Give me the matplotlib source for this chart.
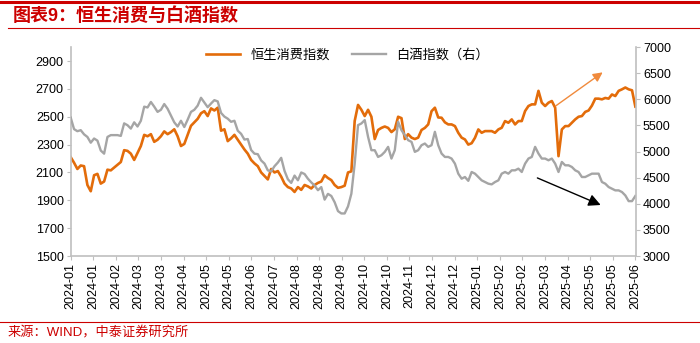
import numpy as np
import matplotlib.pyplot as plt
from matplotlib.lines import Line2D

plt.rcParams['font.family'] = ['Liberation Sans', 'Noto Sans CJK SC', 'DejaVu Sans']

# 恒生消费指数 (left axis), sampled roughly every two trading days
hs_consumer = [
    2210, 2170, 2125, 2150, 2145, 2010, 1965, 2080, 2090, 2020,
    2035, 2120, 2115, 2135, 2155, 2175, 2260, 2255, 2235, 2190,
    2240, 2290, 2370, 2360, 2375, 2320, 2335, 2360, 2395, 2375,
    2390, 2410, 2360, 2290, 2305, 2370, 2435, 2460, 2485, 2525,
    2540, 2505, 2560, 2545, 2565, 2400, 2410, 2325, 2345, 2370,
    2335, 2300, 2265, 2235, 2190, 2165, 2145, 2100, 2075, 2050,
    2125, 2100, 2110, 2070, 2020, 1995, 1985, 1960, 1995, 1975,
    2010, 2000, 1985, 2010, 2025, 2035, 2080, 2060, 2045, 2010,
    1990, 1995, 2005, 2100,
    2108, 2470, 2585, 2550, 2505, 2550, 2500, 2340, 2405, 2420,
    2430, 2420, 2390, 2410, 2500, 2490, 2340, 2375, 2350, 2340,
    2350, 2405, 2420, 2445, 2540, 2565, 2495, 2493, 2460, 2445,
    2445, 2433, 2385, 2350, 2337, 2300, 2310, 2349, 2409, 2385,
    2397, 2397, 2397, 2385, 2409, 2421, 2469, 2457, 2481, 2445,
    2469, 2469, 2541, 2577, 2589, 2589, 2686, 2601, 2577, 2601,
    2613, 2565, 2217, 2409, 2433, 2433, 2457, 2481, 2500, 2505,
    2535, 2545, 2580, 2630, 2630, 2625, 2635, 2630, 2660, 2649,
    2686, 2697, 2710, 2697, 2690, 2573,
]

# 白酒指数 (right axis)
baijiu = [
    5650, 5430, 5390, 5410, 5330, 5280, 5170, 5250, 5210, 5020,
    4960, 5280, 5315, 5315, 5315, 5300, 5540, 5505, 5440, 5560,
    5480, 5590, 5860, 5845, 5950, 5860, 5760, 5800, 5910, 5820,
    5690, 5560, 5480, 5590, 5470, 5610, 5760, 5800, 5880, 6030,
    5940, 5850, 5920, 5985, 5960, 5740, 5670, 5630, 5570, 5590,
    5400, 5340, 5230, 5240, 5030, 4960, 4950, 4830, 4770, 4640,
    4620, 4720, 4790, 4880, 4630, 4470, 4400, 4540, 4450, 4600,
    4570, 4480, 4410, 4350, 4260, 4320, 4080, 4190, 4150, 4030,
    3860, 3815, 3815, 3950,
    4192, 4770, 5506, 5538, 5603, 5282, 5026, 5026, 4897, 4930,
    4994, 5090, 4866, 5026, 5570, 5410, 5314, 5218, 5186, 4994,
    5026, 5122, 5154, 5090, 5122, 5378, 5122, 4962, 4897, 4897,
    4866, 4769, 4577, 4481, 4513, 4440, 4609, 4577, 4513, 4449,
    4417, 4385, 4372, 4417, 4449, 4577, 4609, 4577, 4641, 4641,
    4673, 4609, 4769, 4866, 4897, 5090, 4962, 4866, 4866, 4833,
    4866, 4769, 4609, 4801, 4737, 4737, 4705, 4641, 4609, 4513,
    4513, 4545, 4577, 4577, 4577, 4417, 4385, 4321, 4289, 4257,
    4257, 4225, 4160, 4051, 4051, 4150,
]

tick_labels = [
    '2024-01', '2024-01', '2024-02', '2024-03', '2024-03', '2024-04',
    '2024-05', '2024-05', '2024-06', '2024-07', '2024-08', '2024-08',
    '2024-09', '2024-10', '2024-10', '2024-11', '2024-12', '2024-12',
    '2025-01', '2025-02', '2025-02', '2025-03', '2025-04', '2025-05',
    '2025-05', '2025-06',
]

red = '#CC0000'
orange = '#E36C0A'
grey = '#A5A5A5'
axis_grey = '#BFBFBF'

x = np.arange(len(hs_consumer))

fig = plt.figure(figsize=(7, 3.43), dpi=100)
ax = fig.add_axes([0.101, 0.2536, 0.8076, 0.609])
ax2 = ax.twinx()

l1, = ax.plot(x, hs_consumer, color=orange, lw=1.9, label='恒生消费指数')
l2, = ax2.plot(x, baijiu, color=grey, lw=1.7, label='白酒指数（右）')

ax.set_xlim(0, len(x) - 0.8)
ax.set_ylim(1500, 3000)
ax.set_yticks(np.arange(1500, 3000, 200))
ax2.set_ylim(3000, 7000)
ax2.set_yticks(np.arange(3000, 7001, 500))

ax.set_xticks(np.linspace(0, len(x) - 1, len(tick_labels)))
ax.set_xticklabels(tick_labels, rotation=90)

for a in (ax, ax2):
    a.spines['top'].set_visible(False)
    for s in a.spines.values():
        s.set_color(axis_grey)
        s.set_linewidth(1.2)
ax.spines['right'].set_visible(False)
ax2.spines['left'].set_visible(False)
ax2.spines['bottom'].set_visible(False)

ax.tick_params(axis='both', direction='out', length=3, color=axis_grey,
               labelsize=9, pad=2, labelcolor='black')
ax2.tick_params(axis='y', direction='out', length=3, color=axis_grey,
                labelsize=9, pad=2, labelcolor='black')

ax.legend(handles=[l1, l2], loc='upper center', bbox_to_anchor=(0.49, 1.05),
          ncol=2, frameon=False, fontsize=9.5, handlelength=2.6,
          columnspacing=1.6)

# trend arrows
ax.annotate('', xy=(0.945, 0.887), xytext=(0.854, 0.711),
            xycoords='axes fraction', textcoords='axes fraction',
            arrowprops=dict(arrowstyle='-|>', color='#F08A3C', lw=1,
                            mutation_scale=14))
ax.annotate('', xy=(0.942, 0.239), xytext=(0.821, 0.379),
            xycoords='axes fraction', textcoords='axes fraction',
            arrowprops=dict(arrowstyle='-|>', color='black', lw=1,
                            mutation_scale=18))

# header / footer decoration
fig.add_artist(Line2D([0, 1], [0.993, 0.993], transform=fig.transFigure,
                      color=red, lw=2.2))
fig.add_artist(Line2D([0.011, 1], [0.918, 0.918], transform=fig.transFigure,
                      color=red, lw=0.8))
fig.add_artist(Line2D([0, 1], [0.061, 0.061], transform=fig.transFigure,
                      color=red, lw=0.8))
fig.text(0.018, 0.952, '图表9：恒生消费与白酒指数', color=red, fontsize=13,
         fontweight='bold', va='center', ha='left')
fig.text(0.011, 0.029, '来源：WIND，中泰证券研究所', color=red, fontsize=9.5,
         va='center', ha='left')

fig.savefig('out.png', dpi=100, facecolor='white')
